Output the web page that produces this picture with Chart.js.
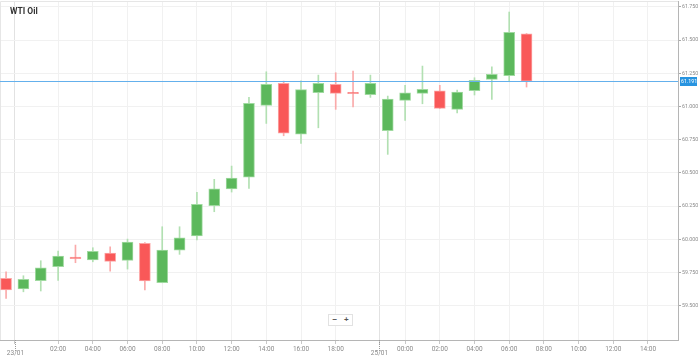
<!DOCTYPE html>
<html><head><meta charset="utf-8">
<script src="https://cdn.jsdelivr.net/npm/chart.js@4/dist/chart.umd.min.js"></script>
<style>
html,body{margin:0;padding:0;background:#fff;}
#wrap{position:relative;width:699px;height:358px;overflow:hidden;}
#title{position:absolute;left:10px;top:6px;font:bold 8.5px Roboto, Arial, sans-serif;color:#333;}
#zoom{position:absolute;left:328px;top:314px;width:23px;height:10px;border:1px solid #e2e2e2;background:#fff;font:bold 8px Arial, sans-serif;color:#555;display:flex;}
#zoom span{flex:1;text-align:center;line-height:10px;}
</style></head><body>
<div id="wrap"><canvas id="c" width="699" height="358"></canvas><div id="title">WTI Oil</div><div id="zoom"><span>−</span><span>+</span></div></div>
<script>
// ---- data ----
const times = ['23:00','00:00','01:00','02:00','03:00','04:00','05:00','06:00','07:00','08:00','09:00','10:00','11:00','12:00','13:00','14:00','15:00','16:00','17:00','18:00','19:00','20:00','23:00','00:00','01:00','02:00','03:00','04:00','05:00','06:00','07:00'];
const futureTimes = ['08:00','09:00','10:00','11:00','12:00','13:00','14:00','15:00'];
const dayBreaks = [1, 22];
const dayLabels = ['23/01', '25/01'];
const open  = [59.706,59.626,59.688,59.794,59.867,59.846,59.897,59.842,59.970,59.673,59.919,60.025,60.253,60.379,60.469,61.009,61.175,60.793,61.104,61.167,61.107,61.089,60.818,61.047,61.099,61.119,60.979,61.119,61.205,61.232,61.548];
const high  = [59.756,59.726,59.839,59.912,59.957,59.937,59.944,60.002,59.975,60.095,60.095,60.354,60.452,60.552,61.069,61.262,61.192,61.194,61.237,61.255,61.267,61.237,61.079,61.160,61.305,61.160,61.124,61.217,61.300,61.712,61.550];
const low   = [59.556,59.605,59.611,59.691,59.824,59.831,59.761,59.776,59.620,59.673,59.887,59.995,60.208,60.356,60.384,60.873,60.780,60.723,60.840,60.979,60.998,61.069,60.640,60.896,61.021,60.984,60.953,61.087,61.054,61.187,61.147];
const close = [59.620,59.699,59.786,59.874,59.855,59.910,59.834,59.980,59.686,59.919,60.012,60.264,60.381,60.462,61.024,61.167,60.800,61.127,61.175,61.099,61.098,61.175,61.056,61.104,61.130,60.986,61.109,61.197,61.242,61.559,61.191];
const priceTicks = [59.5,59.75,60.0,60.25,60.5,60.75,61.0,61.25,61.5,61.75];

// ---- styling ----
const UP = 'rgb(92,184,92)', UP_EDGE = 'rgb(160,218,160)', UP_WICK = 'rgb(178,224,178)';
const DN = 'rgb(249,88,88)', DN_EDGE = 'rgb(252,165,165)', DN_WICK = 'rgb(250,170,170)';
const FONT = 'Roboto, Arial, sans-serif';
const slotLabels = times.concat(futureTimes);
const isUp = i => close[i] >= open[i];
const datePos = dayBreaks.map(b => b - 0.5);

const overlay = {
  id: 'overlay',
  beforeDatasetsDraw(chart) {
    const {ctx, chartArea: a} = chart;
    ctx.save();
    ctx.strokeStyle = '#e6e6e6'; ctx.lineWidth = 1;
    ctx.beginPath();
    ctx.moveTo(a.left + 0.5, a.bottom); ctx.lineTo(a.left + 0.5, a.top + 0.5); ctx.lineTo(a.right, a.top + 0.5);
    ctx.stroke();
    ctx.restore();
  },
  afterDraw(chart) {
    const {ctx, chartArea: a, scales: {x, y}} = chart;
    const last = close[close.length - 1];
    const py = Math.round(y.getPixelForValue(last));
    ctx.save();
    ctx.fillStyle = '#64b0ec';
    ctx.fillRect(a.left, py, a.right - a.left, 1);
    ctx.fillStyle = '#2894e0';
    ctx.fillRect(a.right + 2, py - 4, 17, 9);
    ctx.fillStyle = '#ffffff'; ctx.font = '5.3px ' + FONT; ctx.textBaseline = 'middle'; ctx.textAlign = 'left';
    ctx.fillText(last.toFixed(3), a.right + 3, py + 1);
    // date markers
    ctx.strokeStyle = '#999'; ctx.lineWidth = 1; ctx.setLineDash([1, 1]);
    ctx.fillStyle = '#888'; ctx.font = '6.5px ' + FONT; ctx.textAlign = 'center'; ctx.textBaseline = 'top';
    datePos.forEach((p, k) => {
      const px = Math.round(x.getPixelForValue(p)) + 0.5;
      ctx.beginPath(); ctx.moveTo(px, a.bottom); ctx.lineTo(px, a.bottom + 11); ctx.stroke();
      ctx.fillText(dayLabels[k], px, a.bottom + 10);
    });
    ctx.restore();
  }
};

new Chart(document.getElementById('c'), {
  type: 'bar',
  data: {
    datasets: [
      {
        label: 'body',
        data: times.map((t, i) => ({x: i, y: [open[i], close[i]]})),
        backgroundColor: times.map((t, i) => isUp(i) ? UP : DN),
        borderColor: times.map((t, i) => isUp(i) ? UP_EDGE : DN_EDGE),
        borderWidth: 1, borderSkipped: false, barThickness: 11, grouped: false, order: 1
      },
      {
        label: 'wick',
        data: times.map((t, i) => ({x: i, y: [low[i], high[i]]})),
        backgroundColor: times.map((t, i) => isUp(i) ? UP_WICK : DN_WICK),
        borderWidth: 0, barThickness: 1, grouped: false, order: 2
      }
    ]
  },
  options: {
    responsive: false, animation: false, devicePixelRatio: 1,
    layout: {padding: {top: 1, left: 0, right: 0, bottom: 0}},
    plugins: {legend: {display: false}, tooltip: {enabled: false}, title: {display: false}},
    scales: {
      x: {
        type: 'linear', min: -0.35, max: 38.73, offset: false,
        grid: {
          offset: false, drawTicks: true, tickLength: 4,
          color: c => (c.tick && !Number.isInteger(c.tick.value)) ? '#e2e2e2' : '#f1f1f1',
          tickColor: '#c8c8c8'
        },
        border: {display: true, color: '#b5b5b5'},
        afterBuildTicks: s => {
          const t = datePos.map(v => ({value: v}));
          slotLabels.forEach((lab, i) => {
            const h = parseInt(lab, 10);
            if (h % 2 === 0 && datePos.every(p => Math.abs(i - p) > 1)) t.push({value: i});
          });
          t.sort((a, b) => a.value - b.value);
          s.ticks = t;
        },
        afterFit: s => { s.height = 18; s.paddingLeft = 0; s.paddingRight = 0; },
        ticks: {
          autoSkip: false, maxRotation: 0, padding: 1, color: '#8a8a8a',
          font: {size: 6.5, family: FONT},
          callback: v => Number.isInteger(v) ? slotLabels[v] : ''
        }
      },
      y: {
        position: 'right', min: 59.242, max: 61.795,
        grid: {color: '#f1f1f1', tickLength: 3, tickColor: '#aaa'},
        border: {display: true, color: '#b5b5b5'},
        afterBuildTicks: s => { s.ticks = priceTicks.map(v => ({value: v})); },
        afterFit: s => { s.width = 21; s.paddingTop = 0; s.paddingBottom = 0; },
        ticks: {padding: 1, color: '#8a8a8a', font: {size: 5.3, family: FONT}, callback: v => v.toFixed(3)}
      }
    }
  },
  plugins: [overlay]
});
</script>
</body></html>
